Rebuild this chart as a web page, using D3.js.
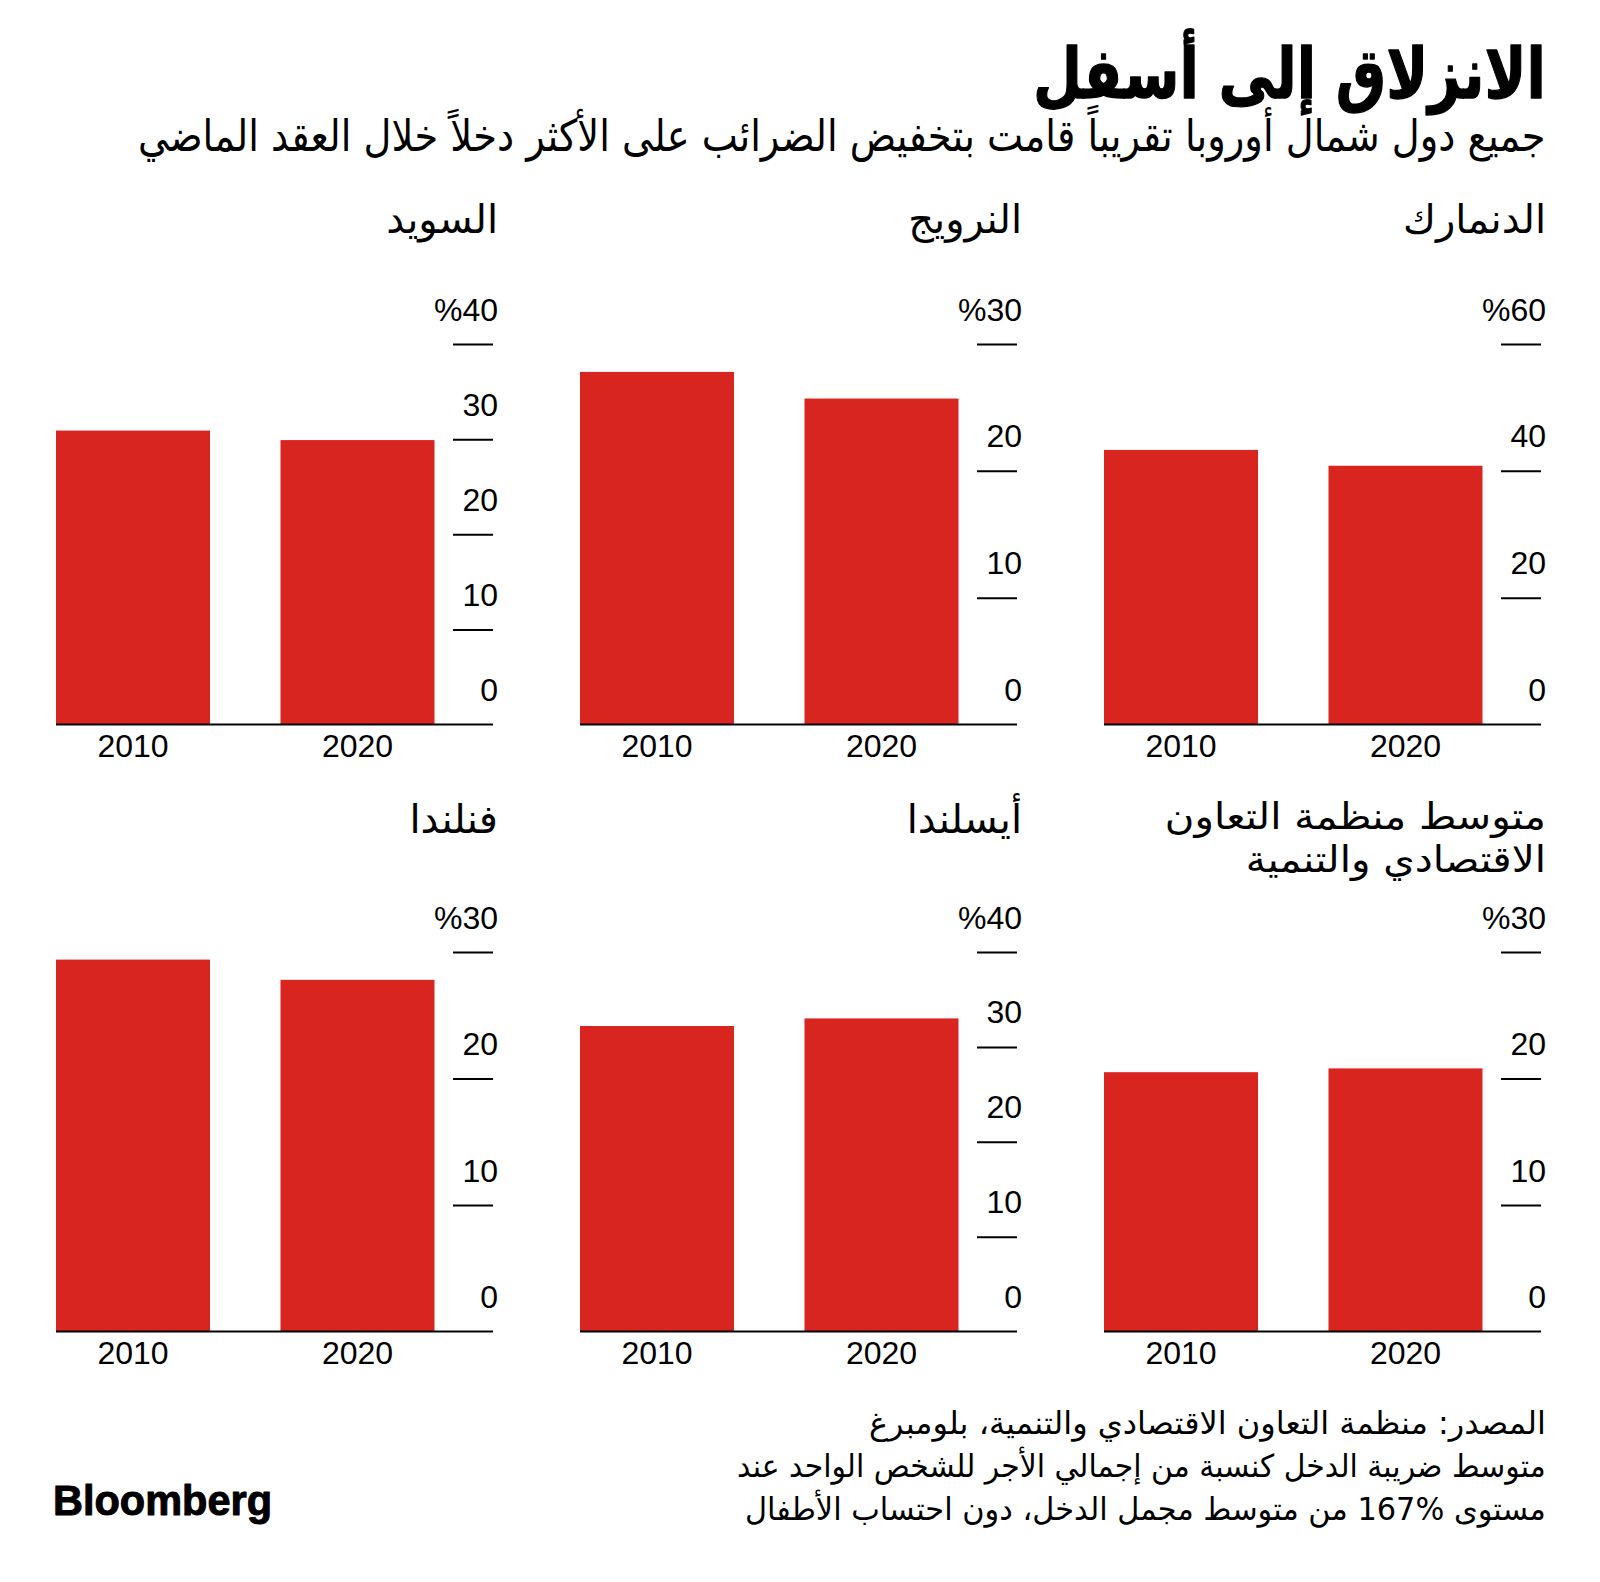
<!DOCTYPE html>
<html><head><meta charset="utf-8">
<script src="https://cdn.jsdelivr.net/npm/d3@7"></script>
<style>body{margin:0;background:#fff} svg{display:block}</style>
</head><body>
<svg id="chart" width="1600" height="1582"></svg>
<script>
// ---- data (panels in right-to-left reading order) ----
const titleText = "الانزلاق إلى أسفل";
const subtitleText = "جميع دول شمال أوروبا تقريباً قامت بتخفيض الضرائب على الأكثر دخلاً خلال العقد الماضي";
const countries = [["الدنمارك"], ["النرويج"], ["السويد"], ["متوسط منظمة التعاون", "الاقتصادي والتنمية"], ["أيسلندا"], ["فنلندا"]];
const years = ["2010", "2020"];
const values2010 = [43.3, 27.8, 30.9, 20.5, 32.2, 29.4];
const values2020 = [40.8, 25.7, 29.9, 20.8, 33.0, 27.8];
const axisMax = [60, 30, 40, 30, 40, 30];
const tickStep = [20, 10, 10, 10, 10, 10];
const footerLines = [
  "المصدر: منظمة التعاون الاقتصادي والتنمية، بلومبرغ",
  "متوسط ضريبة الدخل كنسبة من إجمالي الأجر للشخص الواحد عند",
  "مستوى %167 من متوسط مجمل الدخل، دون احتساب الأطفال"
];
const brand = "Bloomberg";

// ---- layout ----
const svg = d3.select("#chart");
const AR = "'DejaVu Sans', sans-serif";
const LAT = "'Liberation Sans', Arial, sans-serif";
const RED = "#d9251f";
const rowTop = [344, 952], rowBase = [724.5, 1331.5], rowTitle = [233, 833];
const colLeft = c => 56 + (2 - c) * 524;
const axisW = 437, bandW = 378.5, tickLen = 40;

function placeText(str, o) {
  const t = svg.append("text")
    .attr("font-family", o.family || AR)
    .attr("font-size", o.size)
    .attr("font-weight", o.weight || 400)
    .attr("fill", "#000")
    .text(str);
  if (o.stroke) t.attr("stroke", "#000").attr("stroke-width", o.stroke).attr("stroke-linejoin", "round");
  const bb = t.node().getBBox();
  const sx = o.width ? o.width / bb.width : (o.sx || 1);
  const sy = o.sy || 1;
  const tx = o.right !== undefined ? o.right - (bb.x + bb.width) * sx : o.left - bb.x * sx;
  t.attr("transform", `translate(${tx},${o.y}) scale(${sx},${sy})`);
  return t;
}

// header
placeText(titleText, {size: 66, weight: 700, right: 1546, y: 98, width: 513, sy: 1.06, stroke: 1.2});
placeText(subtitleText, {size: 42, right: 1546, y: 151, width: 1408, sy: 1.05});

countries.forEach((name, i) => {
  const row = Math.floor(i / 3), col = i % 3;
  const x0 = colLeft(col);
  const g = svg.append("g").attr("transform", `translate(${x0},0)`);
  const x = d3.scaleBand().domain(years).range([0, bandW]).paddingInner(0.314).paddingOuter(0);
  const y = d3.scaleLinear().domain([0, axisMax[i]]).range([rowBase[row], rowTop[row]]);
  const vals = [values2010[i], values2020[i]];

  // title
  if (name.length === 1) {
    placeText(name[0], {size: 40, right: x0 + 442, y: rowTitle[row]});
  } else {
    name.forEach((line, k) => placeText(line, {size: 40, sx: 1.01, sy: 0.91, right: x0 + 442,
      y: rowTitle[row] - 4 + k * 43}));
  }

  // bars
  g.selectAll("rect").data(years).join("rect")
    .attr("x", d => x(d))
    .attr("y", (d, j) => y(vals[j]))
    .attr("width", x.bandwidth())
    .attr("height", (d, j) => rowBase[row] - y(vals[j]))
    .attr("fill", RED);

  // y axis (right side)
  const ticks = d3.range(0, axisMax[i] + tickStep[i] / 2, tickStep[i]);
  const ya = g.append("g").attr("transform", `translate(${axisW},0)`)
    .call(d3.axisLeft(y).tickValues(ticks).tickSize(tickLen)
      .tickFormat(v => v === axisMax[i] ? "%" + v : String(v)));
  ya.select(".domain").remove();
  ya.selectAll(".tick line").attr("stroke", "#000").attr("stroke-width", 2)
    .attr("display", d => d === 0 ? "none" : null);
  ya.selectAll(".tick text")
    .attr("x", 5).attr("dy", -24).attr("text-anchor", "end")
    .attr("font-family", LAT).attr("font-size", 32).attr("fill", "#000");

  // baseline
  g.append("line").attr("x1", 0).attr("x2", axisW)
    .attr("y1", rowBase[row]).attr("y2", rowBase[row])
    .attr("stroke", "#000").attr("stroke-width", 2);

  // x axis labels
  const xa = g.append("g").attr("transform", `translate(0,${rowBase[row]})`)
    .call(d3.axisBottom(x).tickSize(0).tickPadding(0));
  xa.select(".domain").remove();
  xa.selectAll(".tick text").attr("dy", 0).attr("y", 32)
    .attr("font-family", LAT).attr("font-size", 32).attr("fill", "#000");
});

// footer
const footerY = [1434, 1477, 1520], footerW = [677, 809, 801];
footerLines.forEach((s, k) => placeText(s, {size: 30, right: 1546, y: footerY[k], width: footerW[k], sy: 1.05}));
placeText(brand, {family: LAT, size: 43, weight: 700, left: 53, y: 1515, width: 219, stroke: 1});
</script>
</body></html>
